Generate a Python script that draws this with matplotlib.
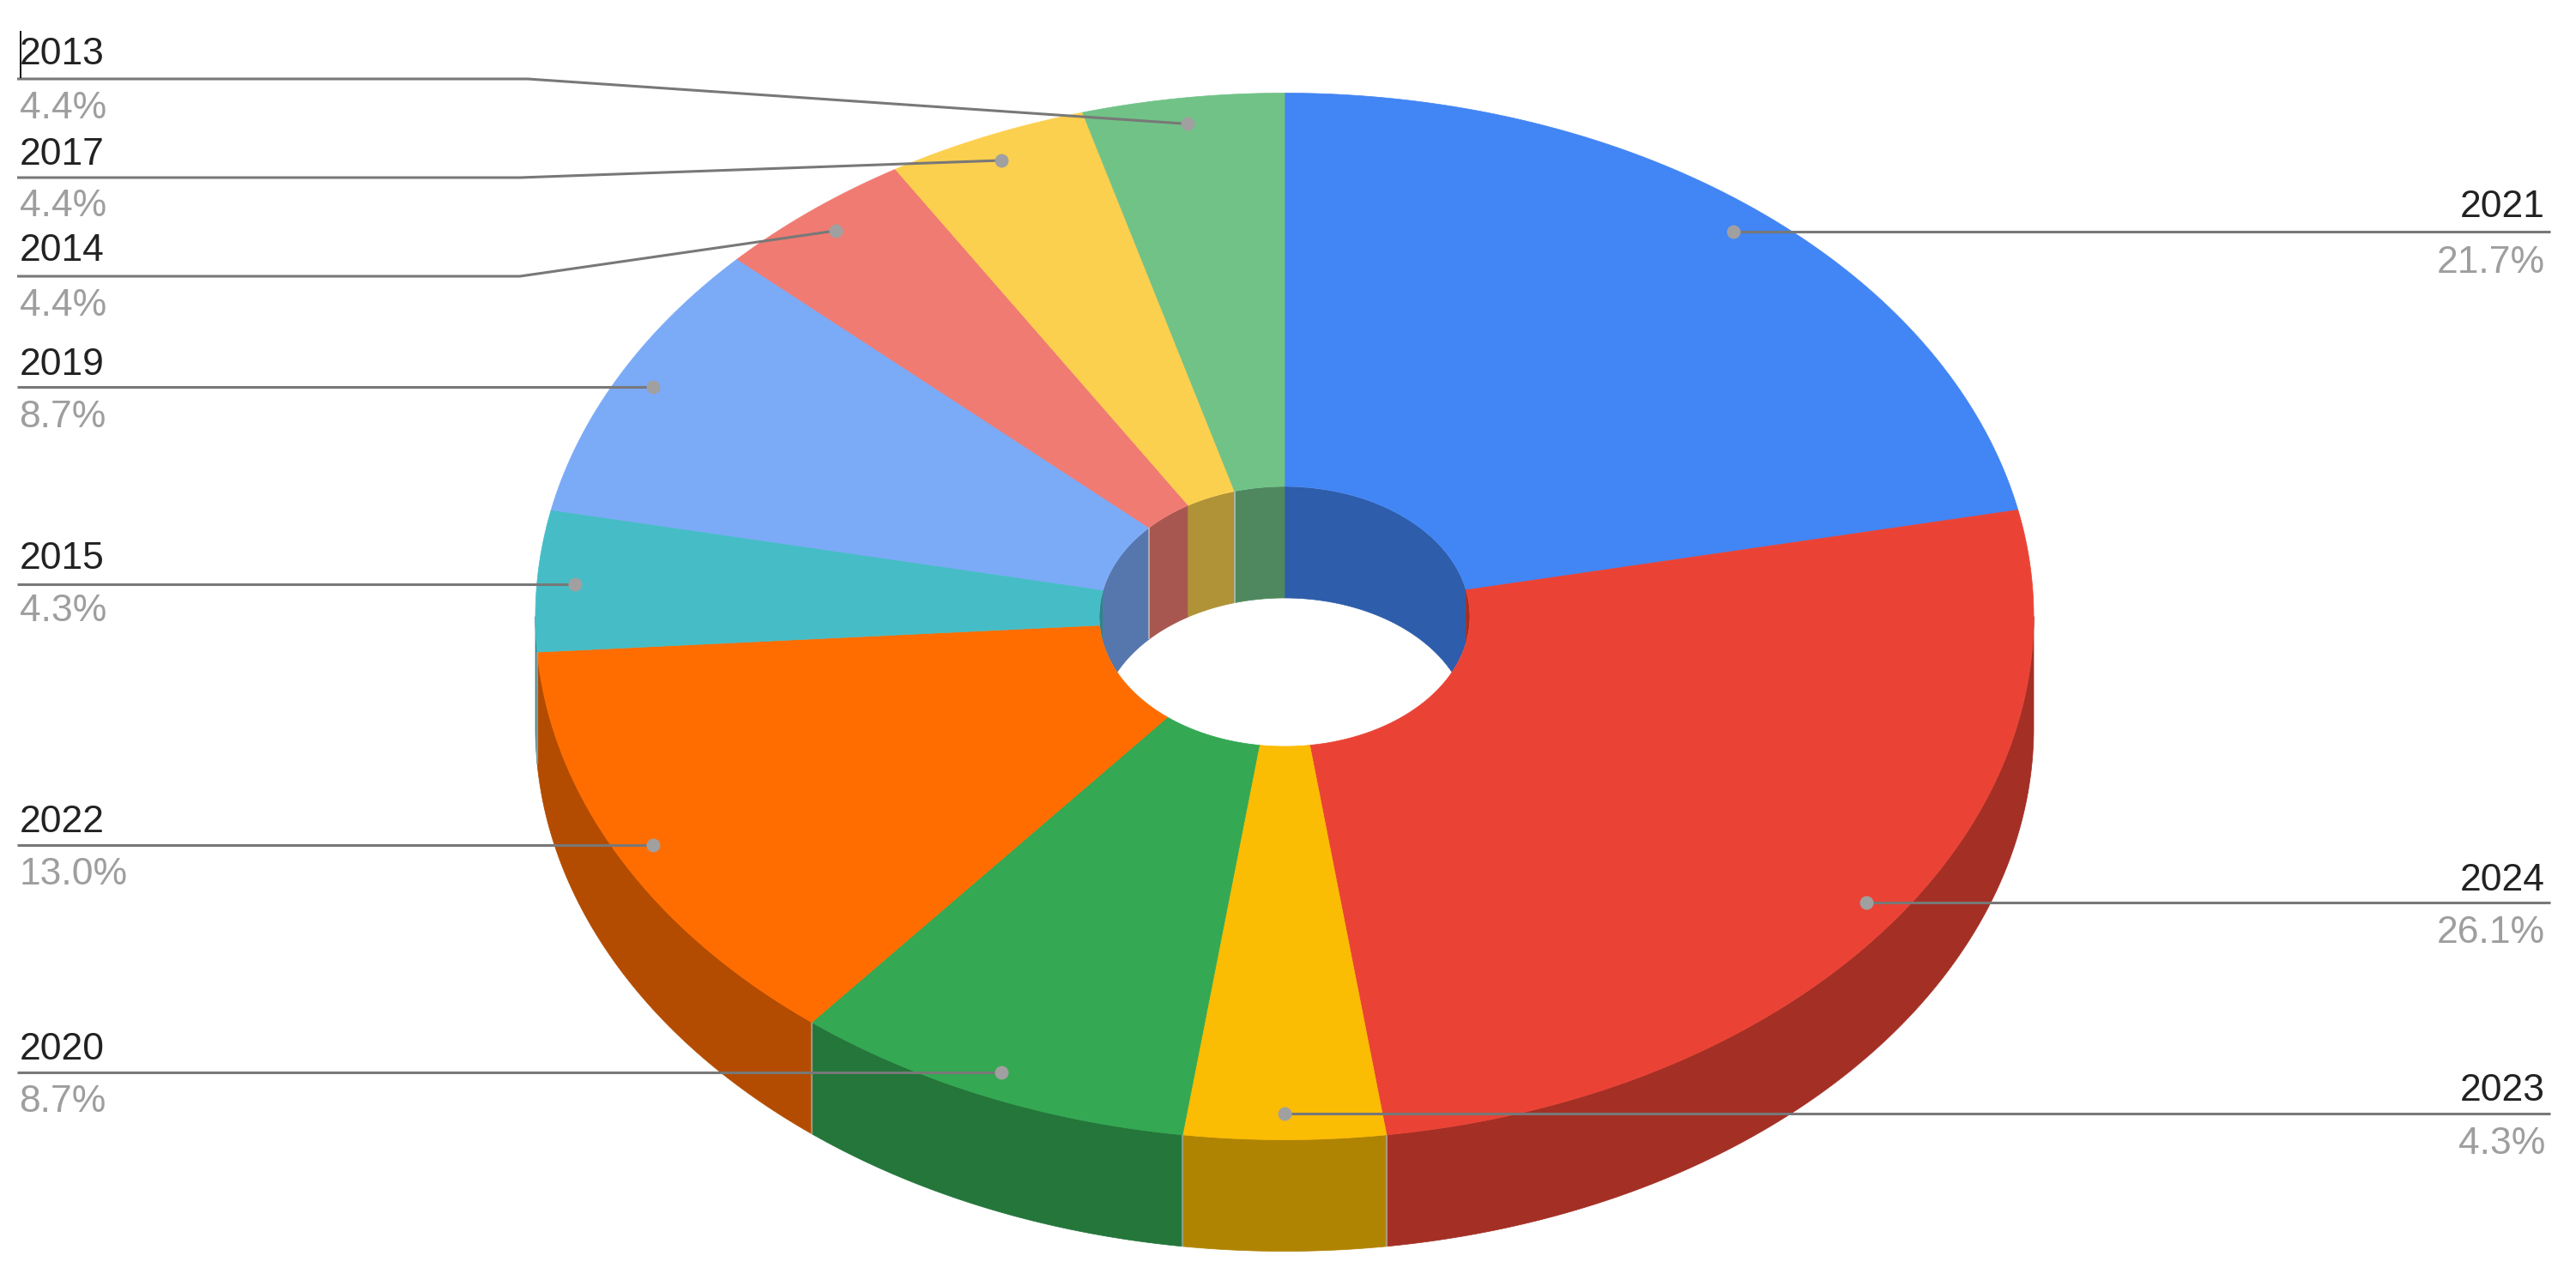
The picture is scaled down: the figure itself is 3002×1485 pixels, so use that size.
"""
3D-style donut chart of share per year, drawn on a pixel-sized axes.
"""
import numpy as np
import matplotlib.pyplot as plt
from matplotlib.colors import to_rgb
from matplotlib.patches import Ellipse, Polygon

plt.rcParams["font.family"] = ["Liberation Sans", "DejaVu Sans"]

# Data, clockwise from 12 o'clock
years = ["2021", "2024", "2023", "2020", "2022", "2015", "2019", "2014", "2017", "2013"]
counts = [5, 6, 1, 2, 3, 1, 2, 1, 1, 1]  # out of 23, fits the percentages below
pct_labels = ["21.7%", "26.1%", "4.3%", "8.7%", "13.0%", "4.3%", "8.7%", "4.4%", "4.4%", "4.4%"]
colors = ["#4285F4", "#EA4335", "#FBBC04", "#34A853", "#FF6D01",
          "#46BDC6", "#7BAAF7", "#F07B72", "#FCD04F", "#71C287"]

# Layout of the pie, in pixels
CX, CY = 1497, 718.5
RX, RY = 873, 610
HOLE_RX, HOLE_RY = 216, 151.5
DEPTH = 130
DOT_R = 0.95

# Layout of the labels, same order as years
leader_y = [270, 1052, 1298, 1250, 985, 681, 451, 322, 207, 92]
elbow_x = [None, None, None, None, None, None, None, 606, 606, 615]
year_base = [253, 1038, 1283, 1235, 970, 663, 437, 304, 192, 75]
pct_base = [318, 1099, 1345, 1296, 1031, 724, 498, 368, 252, 138]
on_right = ["2021", "2024", "2023"]
inner_seams = ["2014", "2013"]


def arc(a, b, rx, ry, dy=0):
    t = np.radians(np.linspace(a, b, max(int(abs(b - a) * 3), 2)))
    return np.column_stack([CX + rx * np.sin(t), CY - ry * np.cos(t) + dy])


def darker(c, f=0.7):
    return tuple(v * f for v in to_rgb(c))


fig = plt.figure(figsize=(30.02, 14.85), dpi=100)
ax = fig.add_axes([0, 0, 1, 1])
ax.set_xlim(0, 3002)
ax.set_ylim(1485, 0)
ax.axis("off")

edges = np.concatenate([[0], np.cumsum(counts)]) / sum(counts) * 360

# outer wall, only the front half shows
for i, c in enumerate(colors):
    a, b = max(edges[i], 90), min(edges[i + 1], 270)
    if a >= b:
        continue
    pts = np.vstack([arc(a, b, RX, RY), arc(b, a, RX, RY, DEPTH)])
    ax.add_patch(Polygon(pts, closed=True, fc=darker(c), ec=darker(c), lw=0.5))
for i in range(1, len(colors)):
    if 90 < edges[i] < 270:
        seam = arc(edges[i], edges[i], RX, RY)[0]
        ax.plot([seam[0]] * 2, [seam[1], seam[1] + DEPTH], color="#B0B0B0",
                lw=1.6, alpha=0.65, solid_capstyle="butt")

# inner wall, only the back half shows, cut off by the hole outline
for i, c in enumerate(colors):
    for lo, hi in ((0, 90), (270, 360)):
        a, b = max(edges[i], lo), min(edges[i + 1], hi)
        if a >= b:
            continue
        pts = np.vstack([arc(a, b, HOLE_RX, HOLE_RY), arc(b, a, HOLE_RX, HOLE_RY, DEPTH)])
        wall = Polygon(pts, closed=True, fc=darker(c), ec=darker(c), lw=0.5)
        ax.add_patch(wall)
        wall.set_clip_path(Ellipse((CX, CY), 2 * HOLE_RX, 2 * HOLE_RY, transform=ax.transData))
        if years[i] in inner_seams:
            seam = arc(a, a, HOLE_RX, HOLE_RY)[0]
            line, = ax.plot([seam[0]] * 2, [seam[1], seam[1] + DEPTH], color="#C8C8C8",
                            lw=1.4, alpha=0.7, solid_capstyle="butt")
            line.set_clip_path(Ellipse((CX, CY), 2 * HOLE_RX, 2 * HOLE_RY, transform=ax.transData))

# top face
for i, c in enumerate(colors):
    pts = np.vstack([arc(edges[i], edges[i + 1], RX, RY),
                     arc(edges[i + 1], edges[i], HOLE_RX, HOLE_RY)])
    ax.add_patch(Polygon(pts, closed=True, fc=c, ec=c, lw=0.5))

# leaders and labels
for i, year in enumerate(years):
    mid = (edges[i] + edges[i + 1]) / 2
    dot_x, dot_y = arc(mid, mid, RX * DOT_R, RY * DOT_R)[0]
    y = leader_y[i]
    if elbow_x[i] is None:
        dot_y = y
    if year in on_right:
        xs, ys = [2972, dot_x], [y, dot_y]
        tx, ha = 2966, "right"
    else:
        xs, ys = [20, dot_x], [y, dot_y]
        if elbow_x[i] is not None:
            xs, ys = [20, elbow_x[i], dot_x], [y, y, dot_y]
        tx, ha = 22.5, "left"
    ax.plot(xs, ys, color="#787878", lw=2.2, solid_capstyle="butt", zorder=5)
    ax.plot([dot_x], [dot_y], "o", color="#A0A0A0", ms=11.5, mew=0, zorder=6)
    ax.text(tx, year_base[i], year, ha=ha, va="baseline", fontsize=32, color="#222222")
    ax.text(tx, pct_base[i], pct_labels[i], ha=ha, va="baseline", fontsize=32, color="#9E9E9E")

# text cursor left in the screenshot
ax.plot([24, 24], [36, 91], color="black", lw=1.3, solid_capstyle="butt", zorder=7)

fig.savefig("out.png", dpi=100, facecolor="white")
